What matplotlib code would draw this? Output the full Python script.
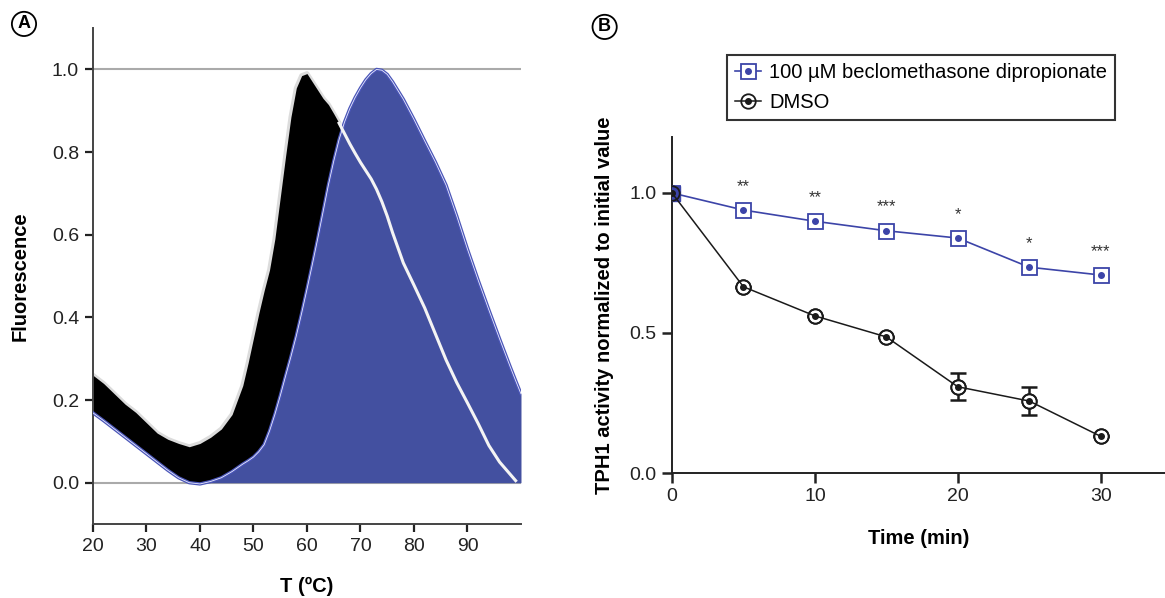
import numpy as np
import matplotlib
matplotlib.use("Agg")
import matplotlib.pyplot as plt
from matplotlib.legend_handler import HandlerTuple

plt.rcParams["font.family"] = ["Liberation Sans", "DejaVu Sans"]

# panel A: melt curves
temp = np.array([20, 22, 24, 26, 28, 30, 32, 34, 36, 38, 40, 42, 44, 46,
                 48, 49, 50, 51, 52, 53, 54, 55, 56, 57, 58, 59, 60, 61, 62,
                 63, 64, 65, 66, 67, 68, 69, 70, 71, 72, 73, 74, 75, 76,
                 78, 80, 82, 84, 86, 88, 90, 92, 94, 96, 98, 99, 100])
dmso_melt = np.array([0.26, 0.24, 0.215, 0.19, 0.17, 0.145, 0.12, 0.105, 0.095,
                      0.087, 0.095, 0.11, 0.13, 0.165,
                      0.235, 0.29, 0.35, 0.41, 0.465, 0.515, 0.59, 0.69, 0.79,
                      0.885, 0.955, 0.985, 0.99, 0.97, 0.95, 0.93, 0.915, 0.893,
                      0.87, 0.845, 0.82, 0.797, 0.775, 0.755, 0.735, 0.71, 0.68,
                      0.645, 0.605,
                      0.532, 0.478, 0.423, 0.36, 0.297, 0.242, 0.193, 0.143,
                      0.09, 0.05, 0.02, 0.005, np.nan])
bdp_melt = np.array([0.169, 0.15, 0.13, 0.11, 0.09, 0.07, 0.05, 0.03, 0.012,
                     0.0, -0.003, 0.003, 0.012, 0.027,
                     0.045, 0.053, 0.062, 0.075, 0.092, 0.125, 0.165, 0.21,
                     0.258, 0.305, 0.355, 0.41, 0.468, 0.528, 0.59, 0.655, 0.72,
                     0.778, 0.83, 0.872, 0.905, 0.932, 0.955, 0.975, 0.99, 1.0,
                     0.998, 0.988, 0.97,
                     0.928, 0.879, 0.827, 0.776, 0.72, 0.645, 0.565, 0.49,
                     0.418, 0.348, 0.28, 0.247, 0.215])

# panel B: activity over time
time = np.array([0, 5, 10, 15, 20, 25, 30])
bdp_act = np.array([1.0, 0.939, 0.899, 0.865, 0.839, 0.735, 0.707])
dmso_act = np.array([1.0, 0.665, 0.561, 0.486, 0.308, 0.257, 0.131])
dmso_err = np.array([0.0, 0.0, 0.0, 0.0, 0.048, 0.051, 0.0])
stars = ["", "**", "**", "***", "*", "*", "***"]

FILL_BLUE = "#4350a0"
EDGE_BLUE = "#4b56b8"
LINE_BLUE = "#3c44a8"
DARK = "#1a1a1a"

fig = plt.figure(figsize=(11.65, 5.98), dpi=100)

# ---------------- panel A ----------------
axA = fig.add_axes([0.0798, 0.1237, 0.3674, 0.8293])
axA.axhline(0, color="#aaaaaa", lw=1.5, zorder=1)
axA.axhline(1, color="#aaaaaa", lw=1.5, zorder=1)

above = dmso_melt >= bdp_melt
below = ~above
below[1:] |= below[:-1]
below[:-1] |= below[1:]
halo = np.where(above, dmso_melt, np.nan)
axA.plot(temp, halo, color="#dcdcdc", lw=3.5, zorder=1.8, solid_capstyle="round")
axA.fill_between(temp, bdp_melt, dmso_melt, where=above, interpolate=True,
                 color="black", lw=0, zorder=2)
start = temp >= temp[np.nanargmin(bdp_melt)]
axA.fill_between(temp, 0, bdp_melt, where=start, color=FILL_BLUE, lw=0, zorder=2.1)
axA.plot(temp, bdp_melt, color=EDGE_BLUE, lw=2.4, zorder=3)
axA.plot(temp, bdp_melt, color="#e8eaff", lw=0.6, zorder=3.1)
axA.plot(temp, np.where(below, dmso_melt, np.nan), color="#f4f4f4", lw=2.2,
         zorder=3.2)

axA.set_xlim(20, 100)
axA.set_ylim(-0.1, 1.1)
axA.set_xticks(np.arange(20, 100, 10))
axA.set_yticks(np.arange(0, 1.01, 0.2))
axA.set_yticklabels([f"{v:.1f}" for v in np.arange(0, 1.01, 0.2)])
for side in ("top", "right"):
    axA.spines[side].set_visible(False)
for side in ("left", "bottom"):
    axA.spines[side].set_color("#444444")
    axA.spines[side].set_linewidth(1.4)
axA.tick_params(direction="out", length=6, width=1.6, color="#222222",
                labelsize=14, labelcolor="#222222", pad=4)
axA.set_xlabel("T (ºC)", fontsize=14.5, fontweight="bold", labelpad=16)
axA.set_ylabel("Fluorescence", fontsize=14.5, fontweight="bold", labelpad=16)

# ---------------- panel B ----------------
axB = fig.add_axes([0.5768, 0.209, 0.4232, 0.562])
axB.errorbar(time, dmso_act, yerr=dmso_err, fmt="none", ecolor=DARK,
             elinewidth=1.8, capsize=5.5, capthick=1.8, zorder=2)
sq, = axB.plot(time, bdp_act, color=LINE_BLUE, lw=1.2, marker="s", ms=10.8,
               mfc="white", mec=LINE_BLUE, mew=1.3, zorder=3)
axB.plot(time[:1], bdp_act[:1], ls="none", marker="s", ms=10.8, color=LINE_BLUE,
         zorder=3.5)
bdot, = axB.plot(time, bdp_act, ls="none", marker="o", ms=4, color=LINE_BLUE,
                 zorder=4)
ci, = axB.plot(time, dmso_act, color=DARK, lw=1.1, marker="o", ms=10.4,
               mfc="none", mec=DARK, mew=1.3, zorder=5)
axB.plot(time[1:], dmso_act[1:], ls="none", marker="o", ms=10.4,
         mfc="white", mec=DARK, mew=1.3, zorder=4.5)
kdot, = axB.plot(time, dmso_act, ls="none", marker="o", ms=4, color=DARK, zorder=6)

for t, v, s in zip(time, bdp_act, stars):
    if s:
        axB.text(t, v + 0.085, s, ha="center", va="center", fontsize=12,
                 color="#333333")

axB.set_xlim(0, 34.5)
axB.set_ylim(0, 1.2)
axB.set_xticks([0, 10, 20, 30])
axB.set_yticks([0, 0.5, 1.0])
axB.set_yticklabels(["0.0", "0.5", "1.0"])
for side in ("top", "right"):
    axB.spines[side].set_visible(False)
for side in ("left", "bottom"):
    axB.spines[side].set_color("#222222")
    axB.spines[side].set_linewidth(1.4)
axB.tick_params(direction="out", length=7, width=1.8, color="#222222",
                labelsize=14, labelcolor="#222222", pad=4)
axB.set_xlabel("Time (min)", fontsize=14.5, fontweight="bold", labelpad=17)
axB.set_ylabel("TPH1 activity normalized to initial value", fontsize=14.5,
               fontweight="bold", labelpad=11)

leg = fig.legend([(sq, bdot), (ci, kdot)],
                 ["100 µM beclomethasone dipropionate", "DMSO"],
                 handler_map={tuple: HandlerTuple(ndivide=1)},
                 loc="upper left", bbox_to_anchor=(0.624, 0.908), fontsize=14.5,
                 numpoints=1, handlelength=1.3, handletextpad=0.4,
                 borderpad=0.4, labelspacing=0.55, borderaxespad=0,
                 fancybox=False, framealpha=1, edgecolor="#333333")
leg.get_frame().set_linewidth(1.5)

# panel letters
for x, y, letter in [(0.0206, 0.96, "A"), (0.519, 0.955, "B")]:
    fig.text(x, y, letter, fontsize=13, fontweight="bold", ha="center", va="center",
             bbox=dict(boxstyle="circle,pad=0.2", fc="white", ec="black", lw=1.3))

fig.savefig("out.png", dpi=100)
